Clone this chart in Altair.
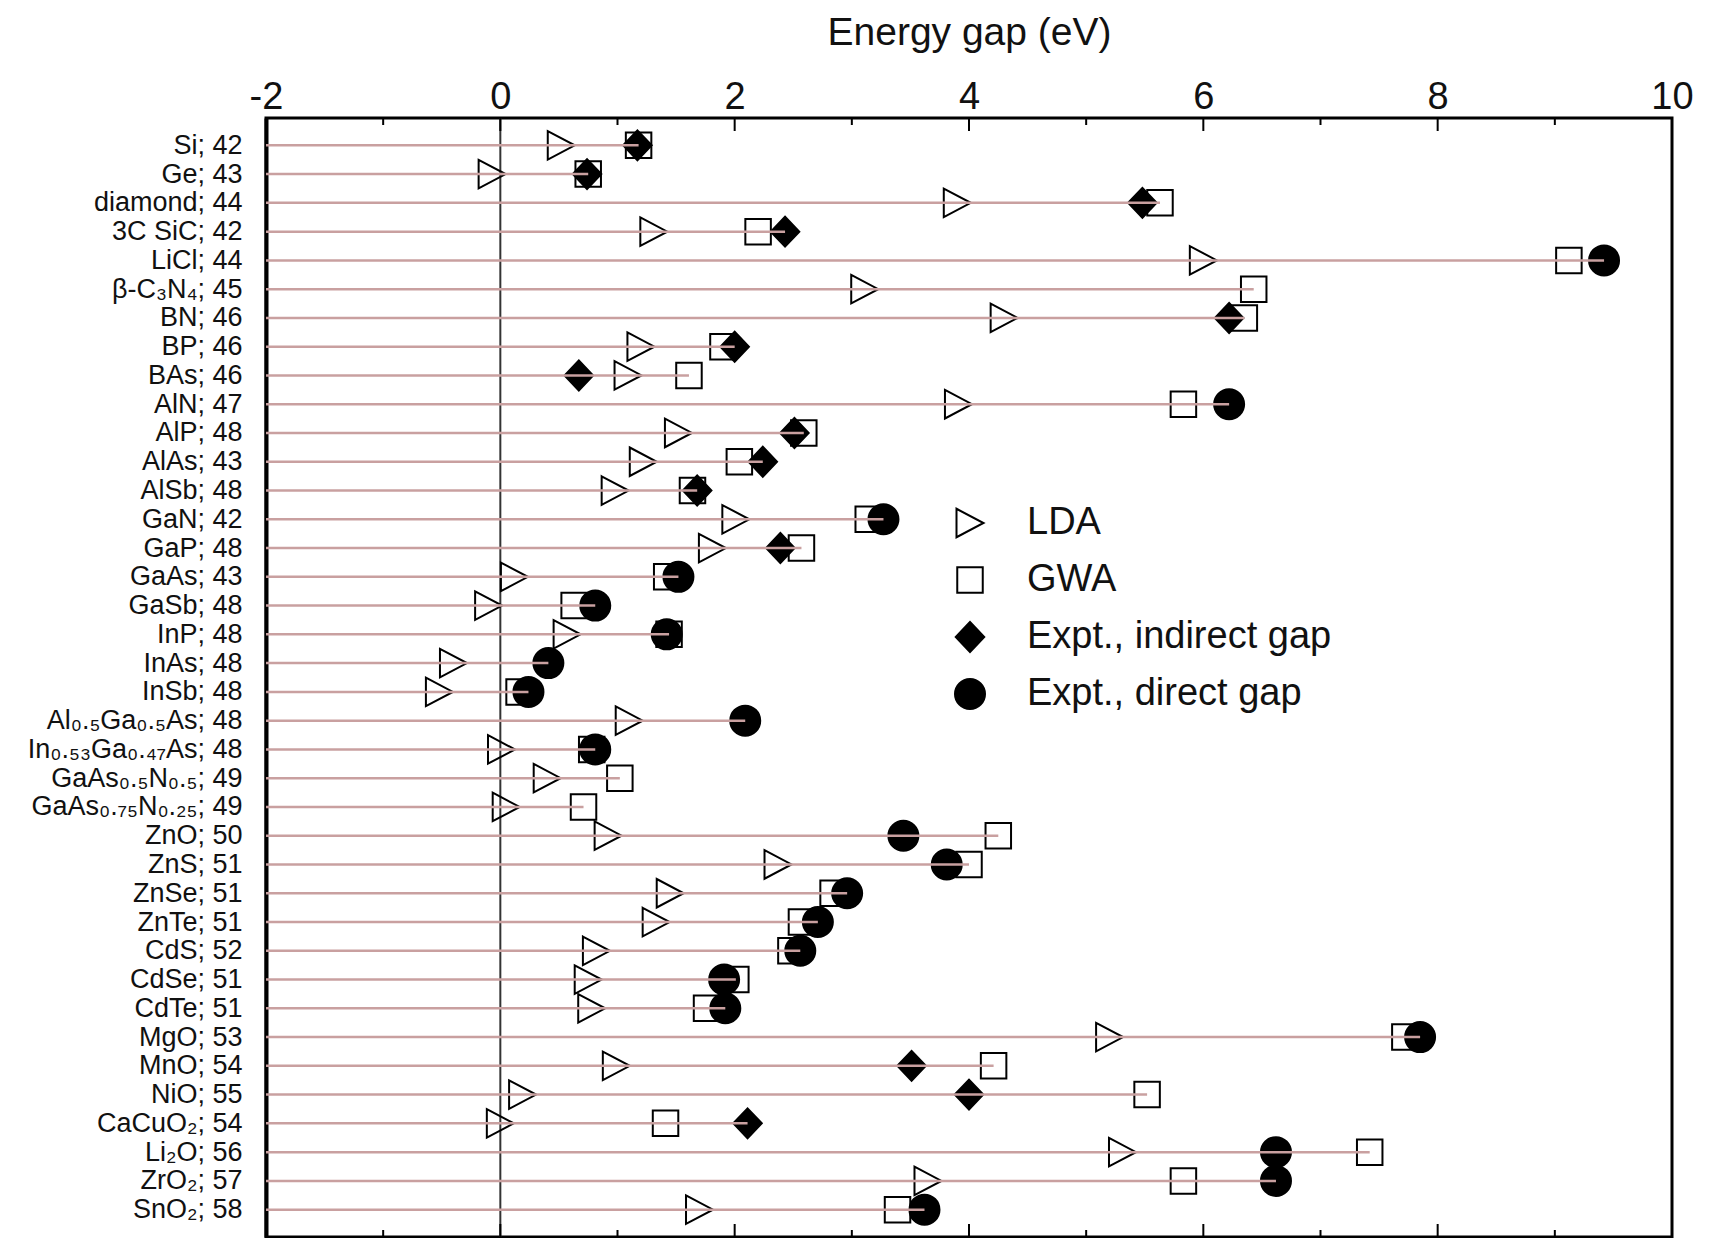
import altair as alt
import pandas as pd

# ---------------- data ----------------
materials = [
    "Si; 42", "Ge; 43", "diamond; 44", "3C SiC; 42", "LiCl; 44", "β-C₃N₄; 45",
    "BN; 46", "BP; 46", "BAs; 46", "AlN; 47", "AlP; 48", "AlAs; 43", "AlSb; 48",
    "GaN; 42", "GaP; 48", "GaAs; 43", "GaSb; 48", "InP; 48", "InAs; 48", "InSb; 48",
    "Al₀.₅Ga₀.₅As; 48", "In₀.₅₃Ga₀.₄₇As; 48", "GaAs₀.₅N₀.₅; 49", "GaAs₀.₇₅N₀.₂₅; 49",
    "ZnO; 50", "ZnS; 51", "ZnSe; 51", "ZnTe; 51", "CdS; 52", "CdSe; 51", "CdTe; 51",
    "MgO; 53", "MnO; 54", "NiO; 55", "CaCuO₂; 54", "Li₂O; 56", "ZrO₂; 57", "SnO₂; 58",
]
lda = [0.52, -0.07, 3.90, 1.31, 6.00, 3.11, 4.30, 1.20, 1.09, 3.91, 1.52, 1.22, 0.98,
       2.01, 1.81, 0.12, -0.10, 0.57, -0.40, -0.52, 1.10, 0.01, 0.40, 0.05,
       0.92, 2.37, 1.45, 1.33, 0.82, 0.75, 0.78, 5.20, 0.99, 0.19, 0.00, 5.31, 3.65, 1.70]
gwa = [1.18, 0.75, 5.63, 2.20, 9.12, 6.43, 6.35, 1.90, 1.61, 5.83, 2.59, 2.04, 1.64,
       3.14, 2.57, 1.42, 0.63, 1.44, None, 0.16, None, 0.78, 1.02, 0.71,
       4.25, 4.00, 2.84, 2.57, 2.48, 2.01, 1.76, 7.72, 4.21, 5.52, 1.41, 7.42, 5.83, 3.39]
expt_indirect = [1.17, 0.74, 5.48, 2.43, None, None, 6.22, 2.00, 0.67, None, 2.51, 2.24, 1.68,
                 None, 2.39, None, None, None, None, None, None, None, None, None,
                 None, None, None, None, None, None, None, None, 3.51, 4.00, 2.11, None, None, None]
expt_direct = [None, None, None, None, 9.42, None, None, None, None, 6.22, None, None, None,
               3.27, None, 1.52, 0.81, 1.42, 0.41, 0.24, 2.09, 0.81, None, None,
               3.44, 3.81, 2.96, 2.71, 2.56, 1.91, 1.92, 7.85, None, None, None, 6.62, 6.62, 3.62]
series_names = ["LDA", "GWA", "Expt., indirect gap", "Expt., direct gap"]
major_ticks = [-2, 0, 2, 4, 6, 8, 10]
minor_ticks = [-1, 1, 3, 5, 7, 9]
zero_line = [0]

rows = []
for name, vals in zip(series_names, [lda, gwa, expt_indirect, expt_direct]):
    for m, v in zip(materials, vals):
        if v is not None:
            rows.append({"material": m, "method": name, "value": v})
df = pd.DataFrame(rows)

# ---------------- styling ----------------
W, H = 1406, 1119
FONT = "Liberation Sans, Arial, Helvetica, sans-serif"
XTITLE = "Energy gap (eV)"
shape_paths = [
    "M-0.9,-0.95L0.9,0L-0.9,0.95Z",
    "M-0.85,-0.85L0.85,-0.85L0.85,0.85L-0.85,0.85Z",
    "M0,-1L0.95,0L0,1L-0.95,0Z",
    "circle",
]
fills = ["transparent", "transparent", "black", "black"]
strokes = ["black", "black", "black", "black"]

x_scale = alt.Scale(domain=[major_ticks[0], major_ticks[-1]], nice=False, zero=False)
y_scale = alt.Scale(type="point", padding=0.95)

legend = alt.Legend(
    title=None, orient="none", legendX=685, legendY=386,
    labelFont=FONT, labelFontSize=38, labelColor="#111", labelLimit=0,
    symbolSize=900, symbolStrokeWidth=2, symbolStrokeColor="black",
    rowPadding=19, labelOffset=38, padding=0,
)

x_axis = alt.Axis(
    orient="top", values=major_ticks, title=XTITLE,
    labelExpr="'' + datum.value",
    labelFont=FONT, labelFontSize=38, labelColor="#111", labelPadding=2,
    labelFlush=False, labelOverlap=False, labelBound=False,
    ticks=False, tickSize=0, domain=False, grid=False,
    titleFont=FONT, titleFontSize=39, titleFontWeight="normal", titleColor="#111",
    titlePadding=26,
)
y_axis = alt.Axis(
    title=None, labelFont=FONT, labelFontSize=27, labelColor="#111", labelPadding=24,
    ticks=False, tickSize=0, domain=True, domainColor="black", domainWidth=4,
    grid=False, labelLimit=0,
)

base = alt.Chart(df)

points = base.mark_point(filled=True, size=900, strokeWidth=2, opacity=1).encode(
    x=alt.X("value:Q", scale=x_scale, axis=x_axis),
    y=alt.Y("material:N", sort=materials, scale=y_scale, axis=y_axis),
    shape=alt.Shape("method:N", scale=alt.Scale(domain=series_names, range=shape_paths), legend=legend),
    fill=alt.Fill("method:N", scale=alt.Scale(domain=series_names, range=fills), legend=legend),
    stroke=alt.Stroke("method:N", scale=alt.Scale(domain=series_names, range=strokes), legend=legend),
)

lines = base.transform_aggregate(
    maxv="max(value)", groupby=["material"]
).transform_calculate(
    xmin=str(major_ticks[0])
).mark_rule(color="#c9a0a0", strokeWidth=2.5).encode(
    x=alt.X("xmin:Q", title=XTITLE),
    x2=alt.X2("maxv:Q"),
    y=alt.Y("material:N", sort=materials, title=None),
)

zero = alt.Chart(pd.DataFrame({"z": zero_line})).mark_rule(color="#333", strokeWidth=2).encode(
    x=alt.X("z:Q", title=XTITLE)
)

tick_major = pd.DataFrame({"t": major_ticks})
tick_minor = pd.DataFrame({"t": minor_ticks})

def ticks(df_, y0, y1):
    return alt.Chart(df_).mark_rule(color="black", strokeWidth=2).encode(
        x=alt.X("t:Q", title=XTITLE), y=alt.value(y0), y2=alt.value(y1)
    )

chart = alt.layer(
    zero, points, lines,
    ticks(tick_major, 0, 13), ticks(tick_minor, 0, 7),
    ticks(tick_major, H, H - 13), ticks(tick_minor, H, H - 7),
).properties(
    width=W, height=H,
    autosize=alt.AutoSizeParams(type="none"),
    padding={"left": 258, "top": 110, "right": 30, "bottom": 2},
).configure_view(stroke="black", strokeWidth=3)

chart.save("out.html", embed_options={"renderer": "svg", "actions": False})
